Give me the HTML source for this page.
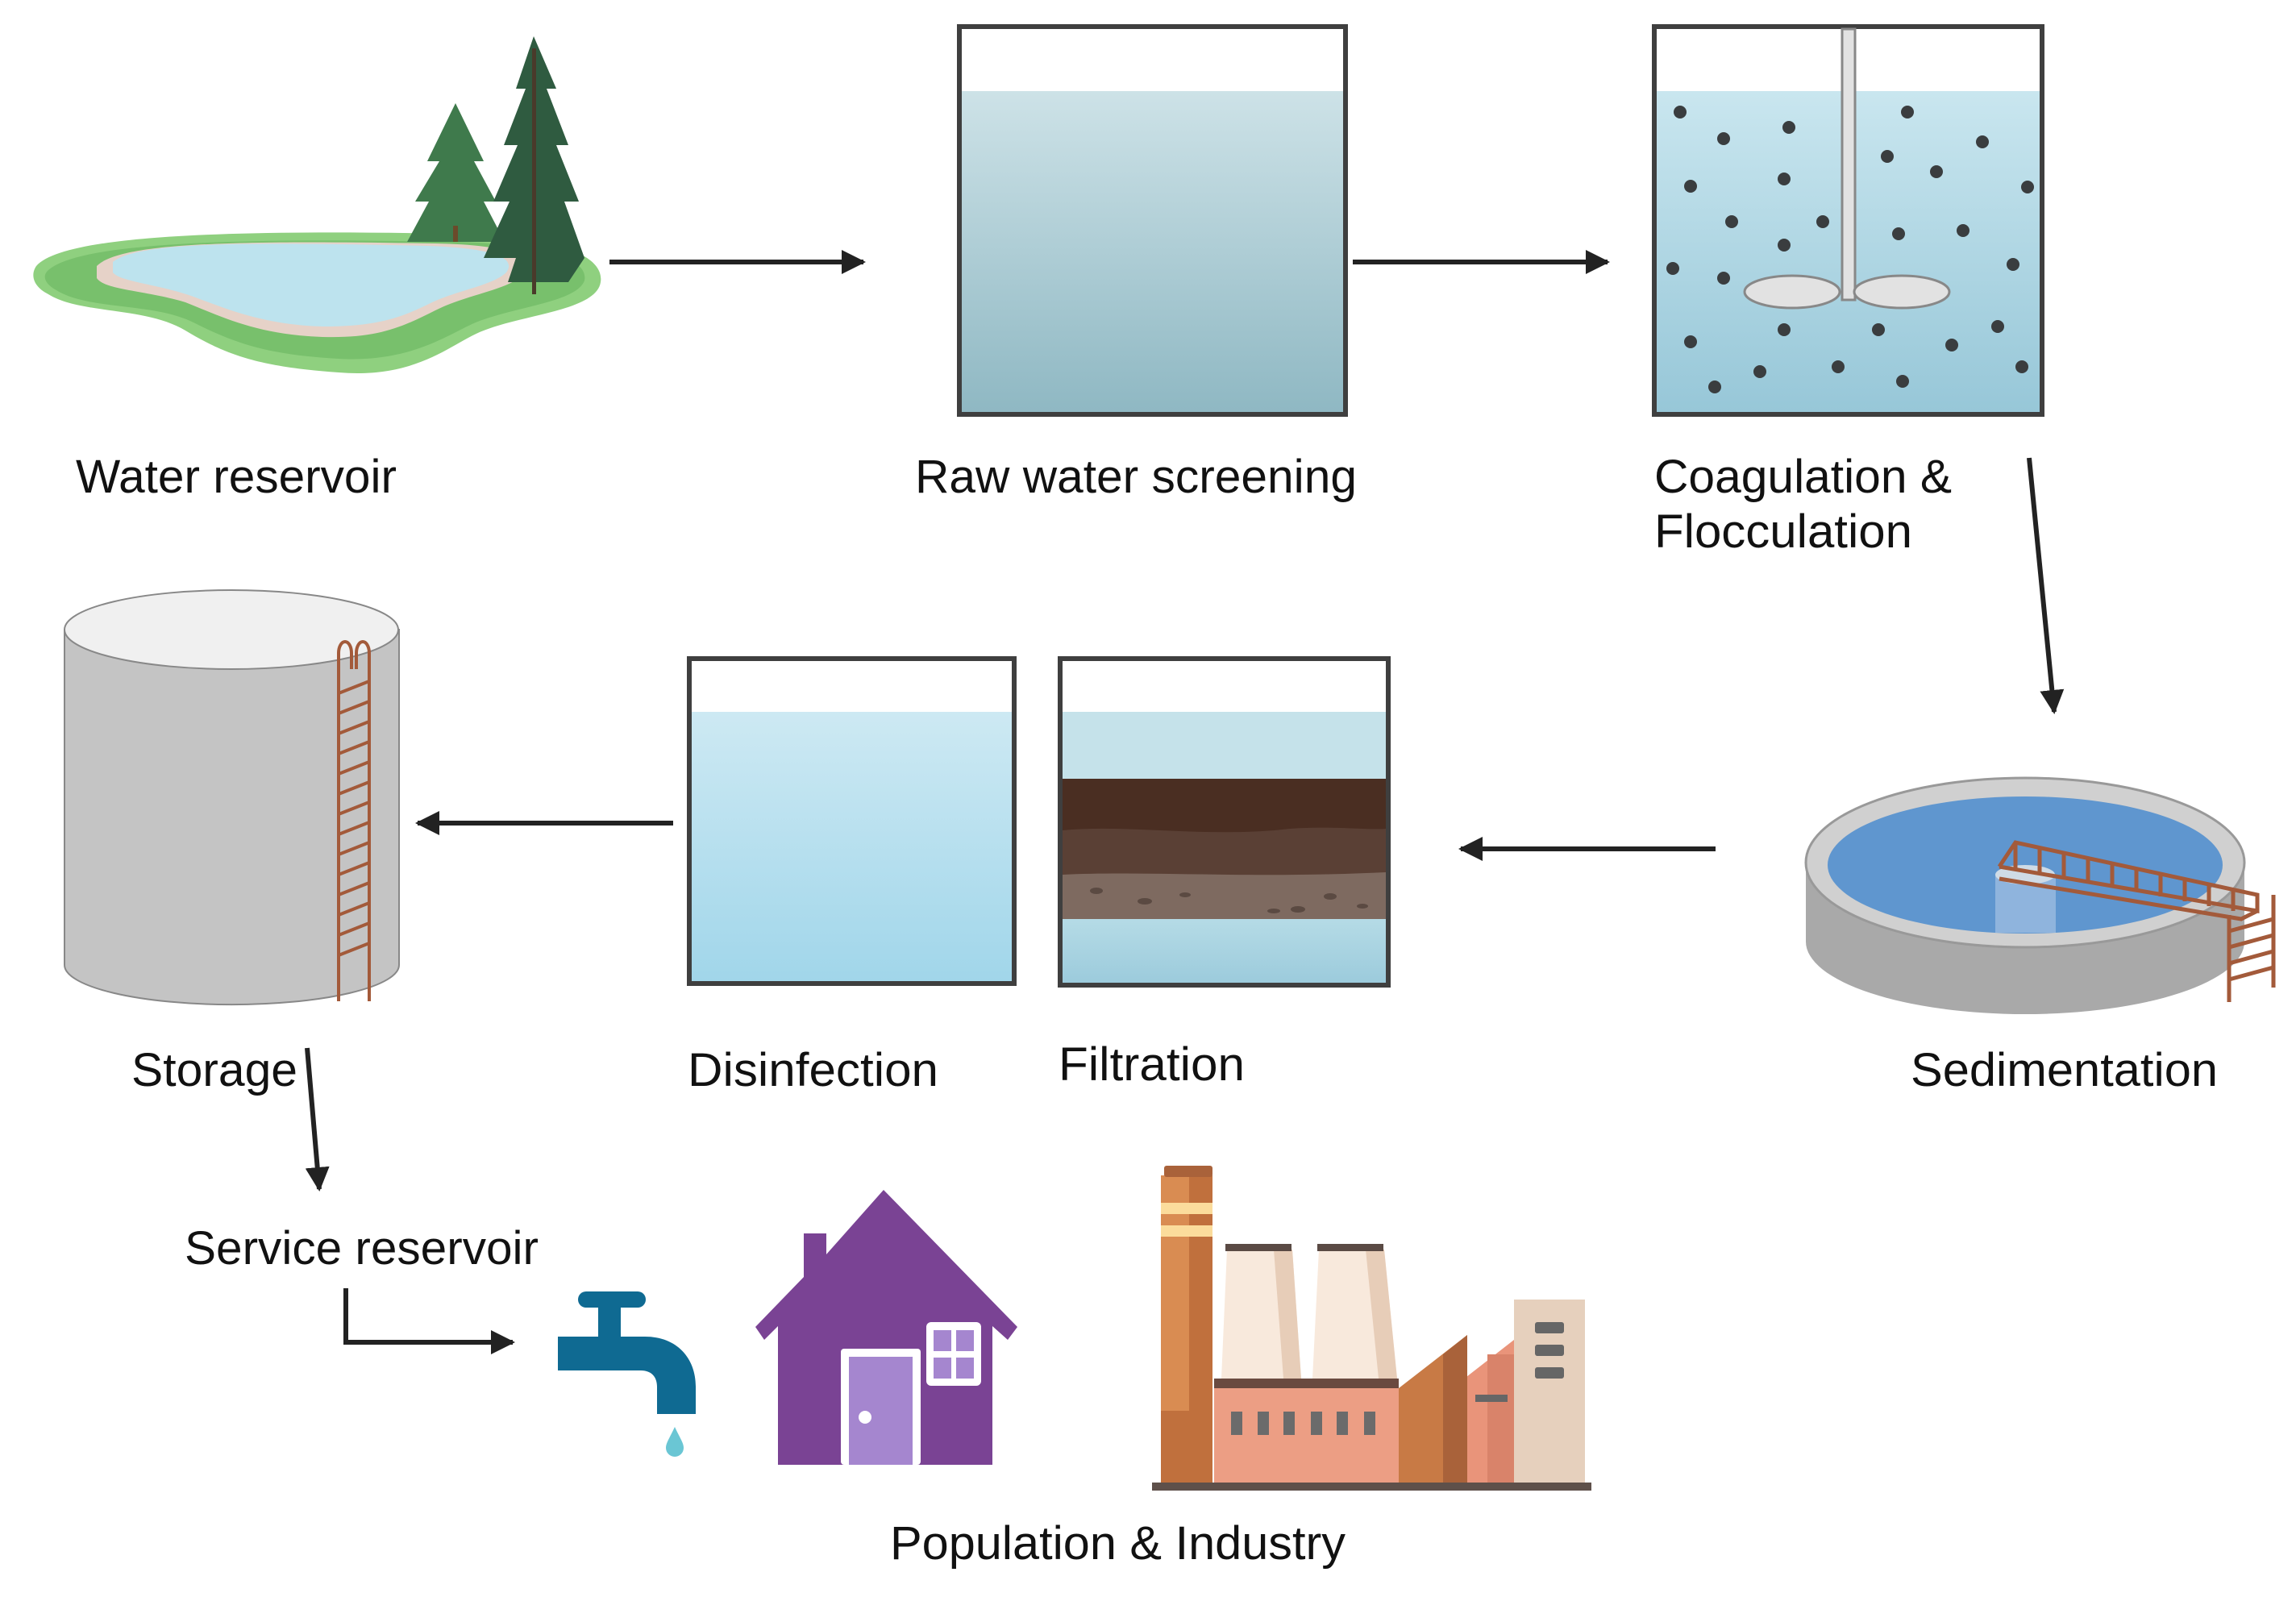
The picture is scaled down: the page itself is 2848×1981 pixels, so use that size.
<!DOCTYPE html>
<html><head><meta charset="utf-8"><style>
html,body{margin:0;padding:0;background:#fff;}
svg{display:block;}
text{font-family:"Liberation Sans",Arial,sans-serif;font-size:58px;fill:#111;}
</style></head><body>
<svg width="2848" height="1981" viewBox="0 0 2848 1981" xmlns="http://www.w3.org/2000/svg">
<defs>
<linearGradient id="raw" x1="0" y1="0" x2="0" y2="1"><stop offset="0" stop-color="#cde2e7"/><stop offset="1" stop-color="#8fb8c3"/></linearGradient>
<linearGradient id="coag" x1="0" y1="0" x2="0" y2="1"><stop offset="0" stop-color="#c9e6ef"/><stop offset="1" stop-color="#97c7d8"/></linearGradient>
<linearGradient id="dis" x1="0" y1="0" x2="0" y2="1"><stop offset="0" stop-color="#cde9f3"/><stop offset="1" stop-color="#a1d6ea"/></linearGradient>
<linearGradient id="filw" x1="0" y1="0" x2="0" y2="1"><stop offset="0" stop-color="#b5dbe6"/><stop offset="1" stop-color="#9ccbdc"/></linearGradient>
<marker id="ah" viewBox="0 0 10 10" refX="9" refY="5" markerWidth="5" markerHeight="5" orient="auto"><path d="M0,0 L10,5 L0,10 z" fill="#222"/></marker>
</defs>

<!-- Pond -->
<path d="M45,330 C80,290 300,285 560,290 C700,292 750,320 745,350 C740,385 650,390 600,410 C560,425 520,470 420,462 C320,455 280,440 230,410 C180,380 100,390 60,365 C40,355 38,340 45,330 Z" fill="#8fd07f"/>
<path d="M60,335 C100,300 300,295 560,300 C690,302 730,325 725,348 C715,375 640,380 590,400 C555,415 510,450 420,445 C330,440 290,425 240,400 C190,375 110,385 70,360 C55,352 52,342 60,335 Z" fill="#78c06c"/>
<path d="M120,330 C150,300 300,298 540,302 C640,304 665,320 650,340 C630,360 580,365 540,385 C500,405 470,420 400,418 C320,415 280,395 230,375 C180,360 130,360 120,345 Z" fill="#e6d2c8"/>
<path d="M140,325 C170,300 300,300 530,305 C620,308 640,322 628,338 C610,355 565,360 530,378 C495,395 465,405 400,405 C330,403 285,385 240,368 C195,352 150,350 140,338 Z" fill="#bde3ee"/>
<g fill="#3f7a4c">
<polygon points="565,128 530,200 545,200 515,250 532,250 505,300 626,300 600,250 615,250 588,200 600,200"/>
</g>
<rect x="562" y="280" width="6" height="20" fill="#6b4a2a"/>
<g fill="#2f5b40">
<polygon points="662,45 640,110 652,110 625,180 642,180 612,250 632,250 600,320 640,320 630,350 705,350 725,320 700,250 718,250 690,180 705,180 678,110 690,110"/>
</g>
<rect x="660" y="60" width="5" height="305" fill="#4a3a2a"/>

<!-- Raw water screening -->
<rect x="1190" y="33" width="479" height="481" fill="#fff" stroke="#3f3f3f" stroke-width="6"/>
<rect x="1193" y="113" width="473" height="398" fill="url(#raw)"/>

<!-- Coag -->
<rect x="2052" y="33" width="481" height="481" fill="#fff" stroke="#3f3f3f" stroke-width="6"/>
<rect x="2055" y="113" width="475" height="398" fill="url(#coag)"/>
<g fill="#3a3d3f">
<circle cx="2084" cy="139" r="8"/><circle cx="2138" cy="172" r="8"/><circle cx="2219" cy="158" r="8"/><circle cx="2366" cy="139" r="8"/><circle cx="2459" cy="176" r="8"/><circle cx="2341" cy="194" r="8"/><circle cx="2402" cy="213" r="8"/><circle cx="2515" cy="232" r="8"/><circle cx="2097" cy="231" r="8"/><circle cx="2213" cy="222" r="8"/><circle cx="2148" cy="275" r="8"/><circle cx="2261" cy="275" r="8"/><circle cx="2213" cy="304" r="8"/><circle cx="2355" cy="290" r="8"/><circle cx="2435" cy="286" r="8"/><circle cx="2075" cy="333" r="8"/><circle cx="2138" cy="345" r="8"/><circle cx="2497" cy="328" r="8"/><circle cx="2213" cy="409" r="8"/><circle cx="2330" cy="409" r="8"/><circle cx="2478" cy="405" r="8"/><circle cx="2097" cy="424" r="8"/><circle cx="2421" cy="428" r="8"/><circle cx="2183" cy="461" r="8"/><circle cx="2280" cy="455" r="8"/><circle cx="2508" cy="455" r="8"/><circle cx="2127" cy="480" r="8"/><circle cx="2360" cy="473" r="8"/>
</g>
<rect x="2285" y="36" width="16" height="336" fill="#e2e2e2" stroke="#888" stroke-width="3"/>
<ellipse cx="2223" cy="362" rx="59" ry="20" fill="#e2e2e2" stroke="#888" stroke-width="3"/>
<ellipse cx="2359" cy="362" rx="59" ry="20" fill="#e2e2e2" stroke="#888" stroke-width="3"/>

<g stroke="#222" stroke-width="6" fill="none" marker-end="url(#ah)">
<line x1="756" y1="325" x2="1071" y2="325"/>
<line x1="1678" y1="325" x2="1994" y2="325"/>
<line x1="2517" y1="568" x2="2548" y2="883"/>
<line x1="2128" y1="1053" x2="1812" y2="1053"/>
<line x1="835" y1="1021" x2="518" y2="1021"/>
<line x1="381" y1="1300" x2="396" y2="1475"/>
<polyline points="429,1598 429,1665 636,1665"/>
</g>

<text x="94" y="611" textLength="398" lengthAdjust="spacingAndGlyphs">Water reservoir</text>
<text x="1135" y="611" textLength="548" lengthAdjust="spacingAndGlyphs">Raw water screening</text>
<text x="2052" y="611" textLength="369" lengthAdjust="spacingAndGlyphs">Coagulation &amp;</text>
<text x="2052" y="679" textLength="320" lengthAdjust="spacingAndGlyphs">Flocculation</text>
<text x="163" y="1347" textLength="206" lengthAdjust="spacingAndGlyphs">Storage</text>
<text x="853" y="1347" textLength="311" lengthAdjust="spacingAndGlyphs">Disinfection</text>
<text x="1313" y="1340" textLength="231" lengthAdjust="spacingAndGlyphs">Filtration</text>
<text x="2370" y="1347" textLength="381" lengthAdjust="spacingAndGlyphs">Sedimentation</text>
<text x="229" y="1568" textLength="439" lengthAdjust="spacingAndGlyphs">Service reservoir</text>
<text x="1104" y="1934" textLength="565" lengthAdjust="spacingAndGlyphs">Population &amp; Industry</text>

<rect x="855" y="817" width="403" height="403" fill="#fff" stroke="#3f3f3f" stroke-width="6"/>
<rect x="858" y="883" width="397" height="334" fill="url(#dis)"/>
<rect x="1315" y="817" width="407" height="405" fill="#fff" stroke="#3f3f3f" stroke-width="6"/>
<rect x="1318" y="883" width="401" height="83" fill="#c5e2ea"/>
<rect x="1318" y="966" width="401" height="70" fill="#4a2e22"/>
<path d="M1318,1030 C1400,1022 1500,1040 1600,1028 C1650,1024 1700,1030 1719,1028 L1719,1090 L1318,1090 Z" fill="#5a4035"/>
<path d="M1318,1085 C1420,1080 1550,1090 1719,1082 L1719,1140 L1318,1140 Z" fill="#7e6a60"/>
<g fill="#5b4a42"><ellipse cx="1360" cy="1105" rx="8" ry="4"/><ellipse cx="1420" cy="1118" rx="9" ry="4"/><ellipse cx="1470" cy="1110" rx="7" ry="3"/><ellipse cx="1610" cy="1128" rx="9" ry="4"/><ellipse cx="1650" cy="1112" rx="8" ry="4"/><ellipse cx="1690" cy="1124" rx="7" ry="3"/><ellipse cx="1580" cy="1130" rx="8" ry="3"/></g>
<rect x="1318" y="1140" width="401" height="79" fill="url(#filw)"/>

<!-- Sedimentation -->
<path d="M2240,1070 L2240,1168 A272,90 0 0 0 2784,1168 L2784,1070 Z" fill="#a9a9a9"/>
<ellipse cx="2512" cy="1070" rx="272" ry="105" fill="#d0d0d0" stroke="#999" stroke-width="3"/>
<ellipse cx="2512" cy="1073" rx="245" ry="85" fill="#5f96cf"/>
<rect x="2475" y="1085" width="75" height="72" fill="#8fb4dd"/>
<ellipse cx="2512" cy="1085" rx="37" ry="12" fill="#cfdbe6"/>
<g stroke="#a35a3a" stroke-width="5" fill="none">
<polyline points="2480,1075 2500,1045 2800,1110 2800,1130 2480,1075"/>
<polyline points="2480,1090 2780,1140 2800,1130"/>
<line x1="2500" y1="1045" x2="2500" y2="1080"/><line x1="2530" y1="1052" x2="2530" y2="1085"/><line x1="2560" y1="1058" x2="2560" y2="1090"/><line x1="2590" y1="1065" x2="2590" y2="1095"/><line x1="2620" y1="1071" x2="2620" y2="1100"/><line x1="2650" y1="1078" x2="2650" y2="1106"/><line x1="2680" y1="1084" x2="2680" y2="1112"/><line x1="2710" y1="1091" x2="2710" y2="1118"/><line x1="2740" y1="1097" x2="2740" y2="1124"/><line x1="2770" y1="1104" x2="2770" y2="1130"/>
<line x1="2765" y1="1135" x2="2765" y2="1243"/><line x1="2820" y1="1110" x2="2820" y2="1225"/>
<line x1="2765" y1="1155" x2="2820" y2="1140"/><line x1="2765" y1="1175" x2="2820" y2="1160"/><line x1="2765" y1="1195" x2="2820" y2="1180"/><line x1="2765" y1="1215" x2="2820" y2="1200"/>
</g>

<!-- Storage -->
<path d="M80,781 L80,1197 A207,49 0 0 0 495,1197 L495,781 Z" fill="#c4c4c4" stroke="#888" stroke-width="2"/>
<ellipse cx="287" cy="781" rx="207" ry="49" fill="#f0f0f0" stroke="#888" stroke-width="2"/>
<g stroke="#a35a3a" stroke-width="4" fill="none">
<path d="M420,1242 L420,810 A8,14 0 0 1 436,810 L436,830"/>
<path d="M458,1242 L458,810 A8,14 0 0 0 442,810 L442,830"/>
<line x1="420" y1="860" x2="458" y2="845"/><line x1="420" y1="885" x2="458" y2="870"/><line x1="420" y1="910" x2="458" y2="895"/><line x1="420" y1="935" x2="458" y2="920"/><line x1="420" y1="960" x2="458" y2="945"/><line x1="420" y1="985" x2="458" y2="970"/><line x1="420" y1="1010" x2="458" y2="995"/><line x1="420" y1="1035" x2="458" y2="1020"/><line x1="420" y1="1060" x2="458" y2="1045"/><line x1="420" y1="1085" x2="458" y2="1070"/><line x1="420" y1="1110" x2="458" y2="1095"/><line x1="420" y1="1135" x2="458" y2="1120"/><line x1="420" y1="1160" x2="458" y2="1145"/><line x1="420" y1="1185" x2="458" y2="1170"/>
</g>

<!-- Tap -->
<g fill="#0f6a92">
<rect x="717" y="1602" width="84" height="20" rx="10"/>
<rect x="742" y="1618" width="28" height="44"/>
<path d="M692,1658 L800,1658 C840,1658 863,1685 863,1720 L863,1754 L815,1754 L815,1720 C815,1708 808,1700 795,1700 L692,1700 Z"/>
</g>
<path d="M837,1770 C830,1785 826,1790 826,1796 A11,11 0 0 0 848,1796 C848,1790 844,1785 837,1770 Z" fill="#6ac6d4"/>

<!-- House -->
<path d="M1096,1476 L1262,1646 L1250,1662 L1231,1645 L1231,1817 L965,1817 L965,1645 L948,1662 L937,1646 L997,1584 L997,1530 L1025,1530 L1025,1556 Z" fill="#7a4394"/>
<rect x="1043" y="1673" width="99" height="144" fill="#fff" rx="4"/>
<rect x="1053" y="1683" width="79" height="134" fill="#a586cf"/>
<circle cx="1073" cy="1758" r="8" fill="#fff"/>
<rect x="1149" y="1640" width="68" height="79" rx="6" fill="#fff"/>
<g fill="#a586cf"><rect x="1158" y="1650" width="22" height="26"/><rect x="1186" y="1650" width="22" height="26"/><rect x="1158" y="1684" width="22" height="26"/><rect x="1186" y="1684" width="22" height="26"/></g>

<!-- Factory -->
<rect x="1878" y="1612" width="88" height="227" fill="#e6d0bd"/>
<g fill="#666"><rect x="1904" y="1640" width="36" height="14" rx="3"/><rect x="1904" y="1668" width="36" height="14" rx="3"/><rect x="1904" y="1696" width="36" height="14" rx="3"/></g>
<polygon points="1801,1722 1878,1662 1878,1839 1801,1839" fill="#e9947a"/>
<rect x="1845" y="1680" width="33" height="159" fill="#d9836a"/>
<rect x="1830" y="1730" width="40" height="9" fill="#666"/>
<polygon points="1735,1722 1820,1656 1820,1839 1735,1839" fill="#c87a45"/>
<polygon points="1790,1680 1820,1656 1820,1839 1790,1839" fill="#a9623a"/>
<polygon points="1522,1550 1603,1550 1614,1710 1515,1710" fill="#f8e9dc"/>
<polygon points="1580,1550 1603,1550 1614,1710 1592,1710" fill="#e7cdb8"/>
<polygon points="1636,1550 1717,1550 1733,1710 1628,1710" fill="#f8e9dc"/>
<polygon points="1694,1550 1717,1550 1733,1710 1710,1710" fill="#e7cdb8"/>
<rect x="1520" y="1543" width="82" height="9" fill="#5a4a44"/>
<rect x="1634" y="1543" width="82" height="9" fill="#5a4a44"/>
<rect x="1506" y="1710" width="229" height="129" fill="#ec9e84"/>
<rect x="1506" y="1710" width="229" height="12" fill="#6a4a40"/>
<g fill="#6b6b6b"><rect x="1527" y="1751" width="14" height="29"/><rect x="1560" y="1751" width="14" height="29"/><rect x="1592" y="1751" width="14" height="29"/><rect x="1626" y="1751" width="14" height="29"/><rect x="1658" y="1751" width="14" height="29"/><rect x="1692" y="1751" width="14" height="29"/></g>
<rect x="1440" y="1458" width="64" height="381" fill="#d98c52"/>
<rect x="1475" y="1458" width="29" height="381" fill="#c0703d"/>
<rect x="1440" y="1492" width="64" height="14" fill="#fbdc9c"/>
<rect x="1440" y="1520" width="64" height="14" fill="#fbdc9c"/>
<rect x="1440" y="1750" width="64" height="89" fill="#c0703d"/>
<rect x="1444" y="1446" width="60" height="14" rx="3" fill="#a9623a"/>
<rect x="1429" y="1839" width="545" height="10" fill="#5e504a"/>
</svg>
</body></html>
